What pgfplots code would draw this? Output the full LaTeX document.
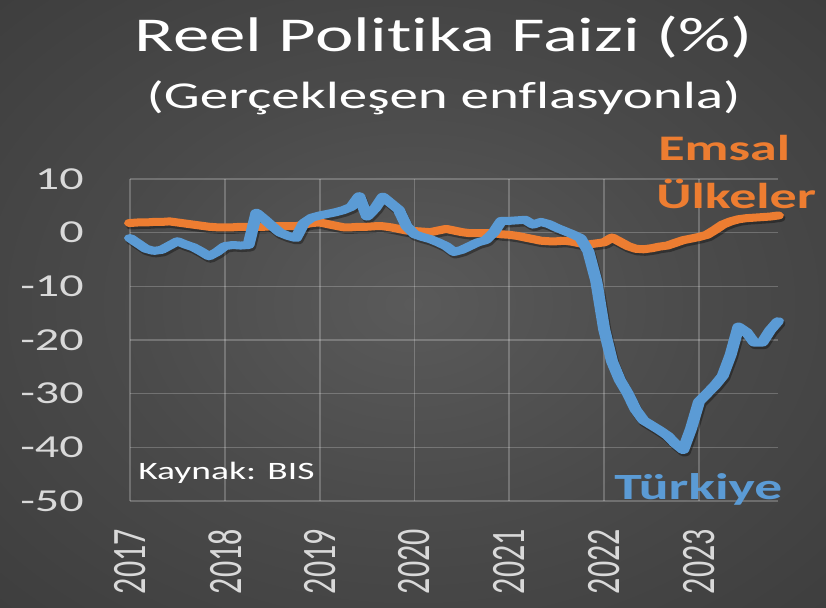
\documentclass[border=0pt]{standalone}
\usepackage{fontspec}
\setmainfont{Carlito}[Ligatures=NoCommon]
\usepackage{pgfplots}
\pgfplotsset{compat=1.18}
\usepackage{pgfplotstable}
\definecolor{tblue}{HTML}{5B9BD5}
\definecolor{torange}{HTML}{ED7D31}
\definecolor{ticktxt}{HTML}{D9D9D9}
\definecolor{bgin}{HTML}{5A5A5A}
\definecolor{bgmid}{HTML}{4A4A4A}
\definecolor{bgout}{HTML}{252525}
\pgfdeclareradialshading{bgshade}{\pgfpoint{0bp}{0bp}}{color(0bp)=(bgin); color(18bp)=(bgmid); color(72bp)=(bgout)}

\pgfplotstableread{
m v
0 -1.0
1 -2.0
2 -3.0
3 -3.4
4 -3.2
5 -2.4
6 -1.6
7 -2.2
8 -2.7
9 -3.5
10 -4.4
11 -3.6
12 -2.5
13 -2.3
14 -2.4
15 -2.3
16 3.7
17 2.5
18 1.2
19 0.0
20 -0.6
21 -1.0
22 1.8
23 2.8
24 3.2
25 3.5
26 3.8
27 4.2
28 4.8
29 6.8
30 3.0
31 4.5
32 6.7
33 5.5
34 4.3
35 1.2
36 -0.3
37 -0.8
38 -1.2
39 -1.8
40 -2.5
41 -3.6
42 -3.2
43 -2.5
44 -1.8
45 -1.4
46 0.0
47 2.2
48 2.2
49 2.3
50 2.4
51 1.5
52 2.0
53 1.6
54 0.9
55 0.3
56 -0.3
57 -1.0
58 -3.5
59 -9.0
60 -18.0
61 -24.0
62 -27.5
63 -30.0
64 -33.0
65 -35.0
66 -35.9
67 -36.8
68 -37.8
69 -39.3
70 -40.5
71 -36.5
72 -31.5
73 -30.0
74 -28.5
75 -26.7
76 -22.8
77 -17.5
78 -18.5
79 -20.5
80 -20.5
81 -18.2
82 -16.5
}\turkey

\pgfplotstableread{
m v
0 1.8
1 1.9
2 1.9
3 2.0
4 2.0
5 2.1
6 1.9
7 1.7
8 1.5
9 1.3
10 1.1
11 1.0
12 1.0
13 1.0
14 1.1
15 1.1
16 1.1
17 1.1
18 1.2
19 1.2
20 1.2
21 1.2
22 1.5
23 1.8
24 1.9
25 1.6
26 1.3
27 1.0
28 1.0
29 1.1
30 1.1
31 1.2
32 1.2
33 1.0
34 0.7
35 0.4
36 0.3
37 0.2
38 0.1
39 0.4
40 0.7
41 0.4
42 0.1
43 -0.1
44 -0.1
45 -0.1
46 -0.1
47 -0.3
48 -0.4
49 -0.6
50 -0.9
51 -1.2
52 -1.5
53 -1.6
54 -1.6
55 -1.5
56 -1.7
57 -2.0
58 -2.2
59 -2.0
60 -1.8
61 -0.9
62 -1.7
63 -2.5
64 -3.0
65 -3.1
66 -2.9
67 -2.6
68 -2.4
69 -1.9
70 -1.4
71 -1.1
72 -0.8
73 -0.4
74 0.5
75 1.5
76 2.1
77 2.5
78 2.7
79 2.8
80 2.9
81 3.0
82 3.2
}\peers

\begin{document}
\begin{tikzpicture}
\shade[shading=bgshade] (0,0) rectangle (826bp,608bp);
\begin{scope}[transform canvas={xscale=1.5}]
\begin{axis}[
  at={(86.667bp,107bp)}, anchor=south west,
  scale only axis, width=432bp, height=322bp,
  xmin=0, xmax=82, ymin=-50, ymax=10,
  xtick={0,12,24,36,48,60,72},
  xticklabels={2017,2018,2019,2020,2021,2022,2023},
  ytick={-50,-40,-30,-20,-10,0,10},
  yticklabels={-50,-40,-30,-20,-10,0,10},
  axis line style={draw=none},
  tick style={draw=none},
  grid=major,
  major grid style={draw=white, draw opacity=0.22, line width=1.2bp},
  ticklabel style={font=\fontsize{32bp}{38bp}\selectfont, text=ticktxt, inner sep=0pt},
  yticklabel style={anchor=east},
  yticklabel shift=30.7bp,
  xticklabel style={rotate=90, anchor=east},
  xticklabel shift=28bp,
  clip=false,
]
\addplot[draw=black, draw opacity=0.35, line width=8bp, line join=round, line cap=round, xshift=1bp, yshift=-2.5bp] table[x=m,y=v] {\peers};
\addplot[draw=black, draw opacity=0.35, line width=8bp, line join=round, line cap=round, xshift=1bp, yshift=-2.5bp] table[x=m,y=v] {\turkey};
\addplot[draw=torange, line width=8bp, line join=round, line cap=round] table[x=m,y=v] {\peers};
\addplot[draw=tblue, line width=8bp, line join=round, line cap=round] table[x=m,y=v] {\turkey};
\end{axis}
\node[anchor=base, text=white, font=\fontsize{48.6bp}{58bp}\selectfont, inner sep=0pt] at (296bp,556bp) {Reel Politika Faizi (\%)};
\node[anchor=base, text=white, font=\fontsize{38bp}{46bp}\selectfont, inner sep=0pt] at (295.7bp,499bp) {(Gerçekleşen enflasyonla)};
\node[anchor=base west, text=torange, font=\fontsize{36bp}{43bp}\selectfont\bfseries, inner sep=0pt] at (438.7bp,447bp) {Emsal};
\node[anchor=base west, text=torange, font=\fontsize{36bp}{43bp}\selectfont\bfseries, inner sep=0pt] at (437.3bp,399bp) {Ülkeler};
\node[anchor=base west, text=tblue, font=\fontsize{37bp}{43bp}\selectfont\bfseries, inner sep=0pt] at (409.3bp,108bp) {Türkiye};
\node[anchor=base west, text=white, font=\fontsize{25bp}{30bp}\selectfont, inner sep=0pt] at (92bp,128bp) {Kaynak: BIS};
\end{scope}
\pgfresetboundingbox
\useasboundingbox (0,0) rectangle (826bp,608bp);
\end{tikzpicture}
\end{document}
